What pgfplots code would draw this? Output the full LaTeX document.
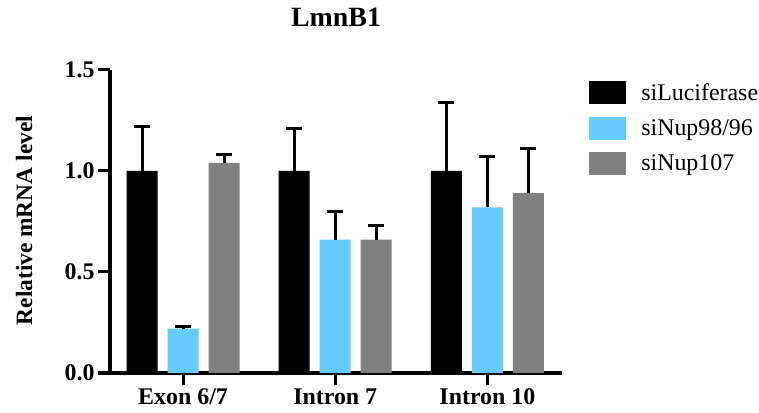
\documentclass[border=0pt]{standalone}
\usepackage{fontspec}
\setmainfont{Liberation Serif}
\usepackage{pgfplots}
\pgfplotsset{compat=1.18}
\definecolor{cblue}{HTML}{66CCFF}
\definecolor{cgray}{HTML}{808080}
\begin{document}
\begin{tikzpicture}
\path[use as bounding box] (0,0) rectangle (759bp,413bp);
\begin{axis}[
  at={(110bp,40bp)}, anchor=south west,
  scale only axis, width=452bp, height=303bp,
  xmin=-0.48, xmax=2.49, ymin=0, ymax=1.5,
  ybar=10bp, bar width=31bp,
  axis x line*=bottom, axis y line*=left,
  axis line style={line width=3bp,-},
  xtick={0,1,2}, xticklabels={Exon 6/7,Intron 7,Intron 10},
  ytick={0,0.5,1,1.5},
  yticklabel style={/pgf/number format/fixed,/pgf/number format/fixed zerofill,/pgf/number format/precision=1},
  /pgf/number format/assume math mode=true,
  ticklabel style={font=\bfseries\fontsize{24}{24}\selectfont},
  tick style={line width=3bp,black},
  tick align=outside, major tick length=12bp,
  xtick pos=bottom, ytick pos=left,
  ylabel={Relative mRNA level},
  ylabel style={font=\bfseries\fontsize{23.5}{24}\selectfont, at={(axis description cs:-0.19,0.503)}, anchor=center},
  legend style={at={(axis description cs:1.06,0.964)}, anchor=north west, draw=none, fill=none, inner sep=0pt,
    font=\fontsize{24}{24}\selectfont, row sep=12.5bp, column sep=13bp},
  legend cell align=left,
  legend image code/.code={\fill[#1] (0bp,-11.5bp) rectangle (37bp,11.5bp);},
  error bars/y dir=plus, error bars/y explicit,
  error bars/error bar style={line width=3bp,black},
  error bars/error mark options={rotate=90,mark size=8bp,line width=3bp,black},
]
\addplot[fill=black,draw=none] coordinates {(0,1.00) +- (0,0.22) (1,1.00) +- (0,0.21) (2,1.00) +- (0,0.34)};
\addplot[fill=cblue,draw=none] coordinates {(0,0.22) +- (0,0.01) (1,0.66) +- (0,0.14) (2,0.82) +- (0,0.25)};
\addplot[fill=cgray,draw=none] coordinates {(0,1.04) +- (0,0.04) (1,0.66) +- (0,0.07) (2,0.89) +- (0,0.22)};
\legend{siLuciferase,siNup98/96,siNup107}
\end{axis}
\node[font=\bfseries\fontsize{28}{28}\selectfont, anchor=base] at (336bp,386bp) {LmnB1};
\end{tikzpicture}
\end{document}
